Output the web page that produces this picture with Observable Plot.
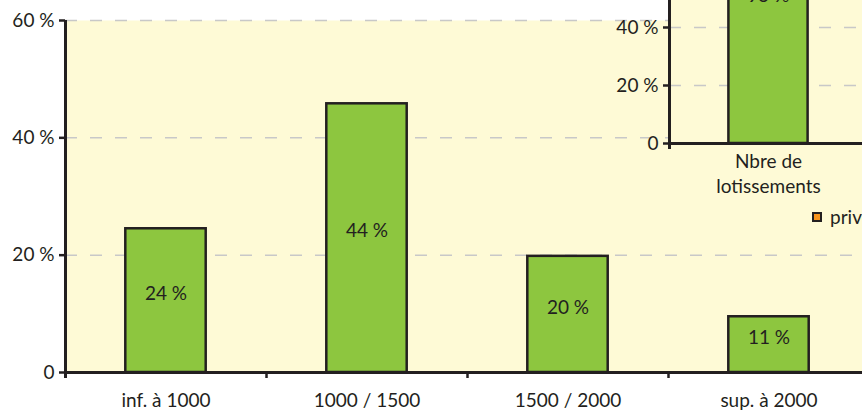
<!DOCTYPE html>
<html>
<head>
<meta charset="utf-8">
<script src="https://cdn.jsdelivr.net/npm/d3@7"></script>
<script src="https://cdn.jsdelivr.net/npm/@observablehq/plot@0.6"></script>
<style>
  html, body { margin: 0; padding: 0; background: #ffffff; }
  #wrap { position: relative; width: 862px; height: 410px; overflow: hidden; font-family: Lato, "DejaVu Sans", sans-serif; color: #231F20; }
  #main, #inset { position: absolute; left: 0; }
  #main { top: 0; }
  #inset { top: -160px; }
  #legend { position: absolute; left: 812px; top: 205px; display: flex; align-items: center; font-size: 19px; white-space: nowrap; }
  #legend .sw { width: 6px; height: 6px; background: #F7941D; border: 2px solid #231F20; margin-right: 8px; }
</style>
</head>
<body>
<div id="wrap">
  <div id="main"></div>
  <div id="inset"></div>
  <div id="legend"><span class="sw"></span><span id="legendText"></span></div>
</div>
<script>
// ---- data ----
const categories = ["inf. à 1000", "1000 / 1500", "1500 / 2000", "sup. à 2000"];
const shares = [24.5, 45.8, 19.8, 9.5];
const shareLabels = ["24 %", "44 %", "20 %", "11 %"];
const yTicks = [0, 20, 40, 60];

const insetCategories = ["Nbre de\nlotissements"];
const insetShares = [95];
const insetLabels = ["95 %"];
const insetTicks = [0, 20, 40];
const insetGrid = [20, 40, 60, 80, 100];
const legendLabels = ["privé"];

// ---- styles ----
const font = "Lato, 'DejaVu Sans', sans-serif";
const bg = "#FEFAD6";
const green = "#8DC63F";
const dark = "#231F20";
const grid = "#C8C8C8";
const pct = d => d === 0 ? "0" : d + " %";

const mainData = categories.map((c, i) => ({c, i, v: shares[i], label: shareLabels[i]}));
const bandEdges = d3.range(categories.length + 1);

const main = Plot.plot({
  width: 870, height: 410,
  marginLeft: 65, marginRight: 1, marginTop: 20, marginBottom: 38,
  x: {domain: [0, categories.length], axis: null},
  y: {domain: [0, 60], axis: null},
  style: {background: "transparent", maxWidth: "none", fontFamily: font, fontSize: "19px", color: dark, overflow: "visible"},
  marks: [
    Plot.frame({fill: bg, stroke: "none"}),
    Plot.ruleY(yTicks.filter(d => d > 0), {stroke: grid, strokeWidth: 1.5, strokeDasharray: "12,13"}),
    Plot.rect(mainData, {x1: d => d.i + 0.3, x2: d => d.i + 0.7, y1: 0, y2: "v", fill: green, stroke: dark, strokeWidth: 2.5}),
    Plot.text(mainData, {x: d => d.i + 0.5, y: d => d.v / 2, text: "label", dy: -7, fill: dark, fontSize: 19}),
    Plot.ruleX([0], {stroke: dark, strokeWidth: 3, insetBottom: -6}),
    Plot.ruleY([0], {stroke: dark, strokeWidth: 3}),
    Plot.ruleX(bandEdges, {y1: 0, y2: 0, insetBottom: -6, stroke: dark, strokeWidth: 2.5}),
    Plot.ruleY(yTicks, {x1: 0, x2: 0, insetLeft: -6, stroke: dark, strokeWidth: 2.5}),
    Plot.text(yTicks, {x: 0, y: d => d, text: pct, textAnchor: "end", dx: -11, fill: dark, fontSize: 19}),
    Plot.text(mainData, {x: d => d.i + 0.5, y: 0, text: "c", dy: 28, fill: dark, fontSize: 19})
  ]
});
document.getElementById("main").appendChild(main);

const insetData = insetCategories.map((c, i) => ({c, i, v: insetShares[i], label: insetLabels[i]}));

const inset = Plot.plot({
  width: 870, height: 410,
  marginLeft: 669, marginRight: 3, marginTop: 13, marginBottom: 107,
  x: {domain: [0, insetCategories.length], axis: null},
  y: {domain: [0, 100], axis: null},
  style: {background: "transparent", maxWidth: "none", fontFamily: font, fontSize: "19px", color: dark, overflow: "visible"},
  marks: [
    Plot.frame({fill: bg, stroke: "none"}),
    Plot.ruleY(insetGrid, {stroke: grid, strokeWidth: 1.5, strokeDasharray: "12,13"}),
    Plot.rect(insetData, {x1: d => d.i + 0.3, x2: d => d.i + 0.7, y1: 0, y2: "v", fill: green, stroke: dark, strokeWidth: 2.5}),
    Plot.text(insetData, {x: d => d.i + 0.5, y: d => d.v / 2, text: "label", dy: -10, fill: dark, fontSize: 19}),
    Plot.ruleX([0], {stroke: dark, strokeWidth: 3, insetBottom: -6}),
    Plot.ruleY([0], {stroke: dark, strokeWidth: 3}),
    Plot.ruleY(insetTicks, {x1: 0, x2: 0, insetLeft: -6, stroke: dark, strokeWidth: 2.5}),
    Plot.text(insetTicks, {x: 0, y: d => d, text: pct, textAnchor: "end", dx: -11, fill: dark, fontSize: 19}),
    Plot.text(insetData, {x: d => d.i + 0.5, y: 0, text: "c", dy: 29, lineHeight: 1.3, fill: dark, fontSize: 19})
  ]
});
document.getElementById("inset").appendChild(inset);
document.getElementById("legendText").textContent = legendLabels[0];
</script>
</body>
</html>
